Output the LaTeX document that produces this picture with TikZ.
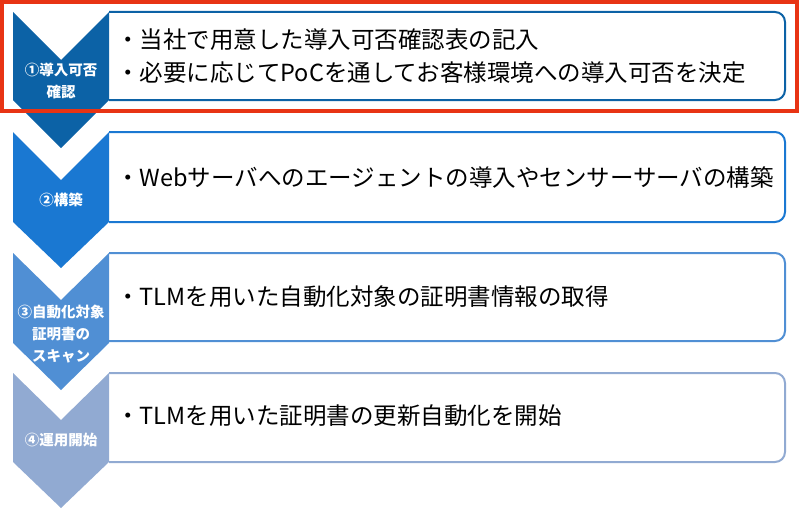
\documentclass[tikz,border=0pt]{standalone}
\usepackage{fontspec}
\newfontfamily\jp{Noto Sans CJK JP}
\usepackage{xcolor}
\usetikzlibrary{positioning}

\definecolor{step1}{RGB}{12,98,166}
\definecolor{step2}{RGB}{26,120,210}
\definecolor{step3}{RGB}{80,143,212}
\definecolor{step4}{RGB}{145,170,210}
\definecolor{frame}{RGB}{232,52,20}

\begin{document}
\begin{tikzpicture}[x=1pt,y=-1pt,font=\jp,
		label/.style={text=white, inner sep=0pt, align=center,
			font=\jp\bfseries\fontsize{14.5}{22}\selectfont},
		item/.style={anchor=west, inner sep=0pt, align=left,
			font=\jp\fontsize{23.5}{33}\selectfont},
		panel/.style={line width=2pt, fill=white, rounded corners=10pt}]
		\useasboundingbox (0,0) rectangle (800,511);
		% panels
		\filldraw[panel, draw=step1] (109,12) -- (785,12) -- (785,100) -- (109,100);
		\filldraw[panel, draw=step2] (109,132) -- (785,132) -- (785,222) -- (109,222);
		\filldraw[panel, draw=step3] (109,253) -- (785,253) -- (785,341) -- (109,341);
		\filldraw[panel, draw=step4] (109,373) -- (785,373) -- (785,462) -- (109,462);
		% chevrons
		\fill[step1] (13,12) -- (61,60) -- (109,12) -- (109,100) -- (61,148) -- (13,100) -- cycle;
		\fill[step2] (13,132) -- (61,180) -- (109,132) -- (109,222) -- (61,268) -- (13,222) -- cycle;
		\fill[step3] (13,253) -- (61,300) -- (109,253) -- (109,343) -- (61,390) -- (13,343) -- cycle;
		\fill[step4] (13,373) -- (61,420) -- (109,373) -- (109,462) -- (61,508) -- (13,462) -- cycle;
		\node[label] (s1) at (61,81) {①導入可否\\確認};
		\node[label] (s2) at (61,200) {②構築};
		\node[label] (s3) at (61,334) {③自動化対象\\証明書の\\スキャン};
		\node[label] (s4) at (61,440) {④運用開始};
		\node[item] (t1) at (116,56) {・当社で用意した導入可否確認表の記入\\・必要に応じてPoCを通してお客様環境への導入可否を決定};
		\node[item] (t2) at (116,178) {・Webサーバへのエージェントの導入やセンサーサーバの構築};
		\node[item] (t3) at (116,297) {・TLMを用いた自動化対象の証明書情報の取得};
		\node[item] (t4) at (116,416) {・TLMを用いた証明書の更新自動化を開始};
		% highlight
		\draw[frame, line width=4pt] (2,2) rectangle (797,111);
	\end{tikzpicture}
\end{document}
